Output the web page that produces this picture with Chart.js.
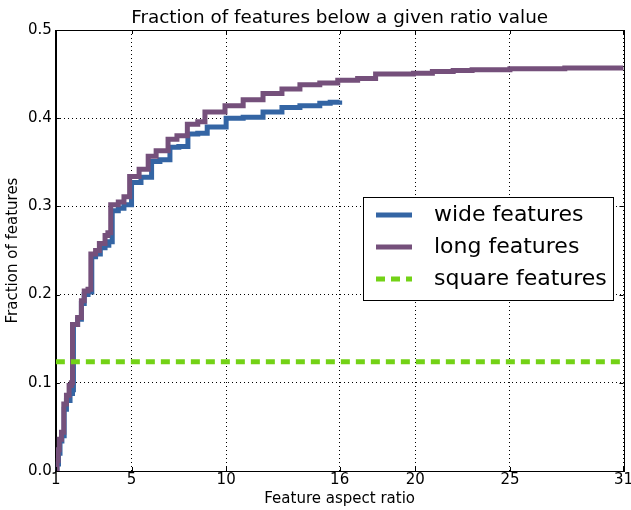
<!DOCTYPE html>
<html>
<head>
<meta charset="utf-8">
<script src="https://cdn.jsdelivr.net/npm/chart.js@4.4.0/dist/chart.umd.min.js"></script>
<style>
  html, body { margin: 0; padding: 0; background: #fff; overflow: hidden; }
  #wrap { width: 633px; height: 510px; }
</style>
</head>
<body>
<div id="wrap"><canvas id="ratio-chart"></canvas></div>
<script>
"use strict";
// values (x = aspect ratio, y = fraction)
const chartTitle = "Fraction of features below a given ratio value";
const xTickValues = [1, 5, 10, 16, 20, 25, 31];
const seriesLabels = ["wide features", "long features", "square features"];
const wideX = [1, 1.06, 1.14, 1.22, 1.32, 1.44, 1.56, 1.75, 1.88, 1.93, 2.15, 2.35, 2.5, 2.7, 2.9, 3.1, 3.35, 3.6, 3.8, 3.98, 4.3, 4.6, 5.0, 5.5, 6.06, 6.5, 7.03, 7.5, 7.98, 8.5, 9.0, 10.0, 10.9, 11.95, 12.95, 13.9, 14.95, 15.5, 16];
const wideY = [0, 0.008, 0.02, 0.034, 0.04, 0.07, 0.08, 0.088, 0.092, 0.166, 0.172, 0.19, 0.2, 0.203, 0.243, 0.246, 0.253, 0.256, 0.26, 0.295, 0.298, 0.302, 0.327, 0.333, 0.351, 0.353, 0.367, 0.368, 0.382, 0.383, 0.39, 0.4, 0.401, 0.407, 0.412, 0.414, 0.417, 0.418, 0.42];
const longX = [1, 1.06, 1.12, 1.18, 1.3, 1.42, 1.56, 1.7, 1.82, 1.88, 2.15, 2.35, 2.5, 2.7, 2.85, 3.1, 3.3, 3.6, 3.75, 3.9, 4.3, 4.6, 4.9, 5.4, 5.88, 6.3, 6.93, 7.4, 7.95, 8.5, 8.88, 9.94, 10.9, 11.95, 12.95, 13.9, 14.95, 15.9, 16.95, 17.9, 19.9, 20.9, 22.0, 23.0, 25, 27.9, 31];
const longY = [0, 0.012, 0.024, 0.036, 0.044, 0.076, 0.086, 0.097, 0.1, 0.166, 0.174, 0.193, 0.204, 0.206, 0.246, 0.25, 0.258, 0.267, 0.27, 0.302, 0.305, 0.311, 0.334, 0.342, 0.357, 0.363, 0.376, 0.38, 0.393, 0.396, 0.407, 0.414, 0.421, 0.428, 0.433, 0.438, 0.44, 0.443, 0.445, 0.45, 0.451, 0.453, 0.454, 0.455, 0.456, 0.457, 0.458];
const squareX = [1, 31];
const squareY = [0.124, 0.124];

const toPoints = (xs, ys) => xs.map((x, i) => ({ x: x, y: ys[i] }));
const FONT = "'DejaVu Sans', sans-serif";

// title centred over the plot area (matplotlib style), not the whole canvas
const plotTitle = {
    id: "plotTitle",
    afterDraw(chart) {
        const ctx = chart.ctx;
        const a = chart.chartArea;
        ctx.save();
        ctx.font = "18.4px " + FONT;
        ctx.fillStyle = "#000";
        ctx.textAlign = "center";
        ctx.textBaseline = "alphabetic";
        ctx.fillText(chartTitle, (a.left + a.right) / 2, a.top - 7);
        ctx.restore();
    },
};

// matplotlib-style inward tick marks on all four sides
const inwardTicks = {
    id: "inwardTicks",
    afterDraw(chart) {
        const ctx = chart.ctx;
        const a = chart.chartArea;
        const xs = chart.scales.x, ys = chart.scales.y;
        ctx.save();
        ctx.strokeStyle = "#000";
        ctx.lineWidth = 1;
        ctx.beginPath();
        xs.ticks.forEach(t => {
            const px = Math.round(xs.getPixelForValue(t.value)) + 0.5;
            ctx.moveTo(px, a.bottom); ctx.lineTo(px, a.bottom - 4);
            ctx.moveTo(px, a.top); ctx.lineTo(px, a.top + 4);
        });
        ys.ticks.forEach(t => {
            const py = Math.round(ys.getPixelForValue(t.value)) + 0.5;
            ctx.moveTo(a.left, py); ctx.lineTo(a.left + 4, py);
            ctx.moveTo(a.right, py); ctx.lineTo(a.right - 4, py);
        });
        ctx.stroke();
        ctx.restore();
    },
};

// legend box drawn inside the plot, like the original
const insideLegend = {
    id: "insideLegend",
    afterDraw(chart) {
        const ctx = chart.ctx;
        const a = chart.chartArea;
        const boxLeft = Math.round(a.left) + 307, boxTop = Math.round(a.top) + 167, boxW = 250, boxH = 103;
        ctx.save();
        ctx.fillStyle = "#fff";
        ctx.fillRect(boxLeft, boxTop, boxW, boxH);
        ctx.strokeStyle = "#000";
        ctx.lineWidth = 1;
        ctx.strokeRect(boxLeft + 0.5, boxTop + 0.5, boxW, boxH);
        ctx.font = "22px " + FONT;
        ctx.textBaseline = "middle";
        chart.data.datasets.forEach((ds, i) => {
            const cy = boxTop + 18 + i * 32;
            ctx.strokeStyle = ds.borderColor;
            ctx.lineWidth = ds.borderWidth;
            ctx.setLineDash(ds.borderDash || []);
            ctx.beginPath();
            ctx.moveTo(boxLeft + 13, cy);
            ctx.lineTo(boxLeft + 49, cy);
            ctx.stroke();
            ctx.setLineDash([]);
            ctx.fillStyle = "#000";
            ctx.fillText(ds.label, boxLeft + 71, cy);
        });
        ctx.restore();
    },
};

// solid black frame around the plot area
const plotFrame = {
    id: "plotFrame",
    beforeDatasetsDraw(chart) {
        const a = chart.chartArea;
        const ctx = chart.ctx;
        ctx.save();
        ctx.strokeStyle = "#000";
        ctx.lineWidth = 1;
        ctx.strokeRect(Math.round(a.left) + 0.5, Math.round(a.top) + 0.5, Math.round(a.width), Math.round(a.height));
        ctx.restore();
    },
};

const chartConfig = {
    type: "line",
    data: {
        datasets: [
            {
                label: seriesLabels[0],
                data: toPoints(wideX, wideY),
                borderColor: "#3465a4",
                borderWidth: 5,
                stepped: true,
                pointRadius: 0,
                order: 3,
            },
            {
                label: seriesLabels[1],
                data: toPoints(longX, longY),
                borderColor: "#75507b",
                borderWidth: 5,
                stepped: true,
                pointRadius: 0,
                order: 2,
            },
            {
                label: seriesLabels[2],
                data: toPoints(squareX, squareY),
                borderColor: "#73d216",
                borderWidth: 5,
                borderDash: [9, 6],
                pointRadius: 0,
                order: 1,
            },
        ],
    },
    options: {
        responsive: true,
        maintainAspectRatio: false,
        animation: false,
        layout: { padding: { left: 4, right: 0, top: 30, bottom: 2 } },
        plugins: {
            legend: { display: false },
            tooltip: { enabled: false },
            title: { display: false },
        },
        scales: {
            x: {
                type: "linear",
                min: 1,
                max: 31,
                afterBuildTicks: (scale) => {
                    scale.ticks = xTickValues.map(v => ({ value: v }));
                },
                ticks: {
                    color: "#000",
                    font: { family: FONT, size: 15 },
                    padding: 0,
                    maxRotation: 0,
                    autoSkip: false,
                    callback: (v) => String(v),
                },
                grid: {
                    color: "#000",
                    lineWidth: 1,
                    drawTicks: false,
                },
                border: { display: true, color: "#000", width: 1, dash: [1, 3] },
                title: {
                    display: true,
                    text: "Feature aspect ratio",
                    color: "#000",
                    font: { family: FONT, size: 15 },
                    padding: { top: 1, bottom: 0 },
                },
            },
            y: {
                min: 0,
                max: 0.5,
                ticks: {
                    stepSize: 0.1,
                    color: "#000",
                    font: { family: FONT, size: 15 },
                    padding: 4,
                    callback: (v) => v.toFixed(1),
                },
                grid: {
                    color: "#000",
                    lineWidth: 1,
                    drawTicks: false,
                },
                border: { display: true, color: "#000", width: 1, dash: [1, 3] },
                title: {
                    display: true,
                    text: "Fraction of features",
                    color: "#000",
                    font: { family: FONT, size: 15 },
                    padding: { top: 0, bottom: 2 },
                },
            },
        },
    },
    plugins: [plotFrame, inwardTicks, insideLegend, plotTitle],
};

// dotted gridlines
chartConfig.options.scales.x.grid.borderDash = [1, 3];
chartConfig.options.scales.y.grid.borderDash = [1, 3];

const canvas = document.getElementById("ratio-chart");
new Chart(canvas, chartConfig);
</script>
</body>
</html>
